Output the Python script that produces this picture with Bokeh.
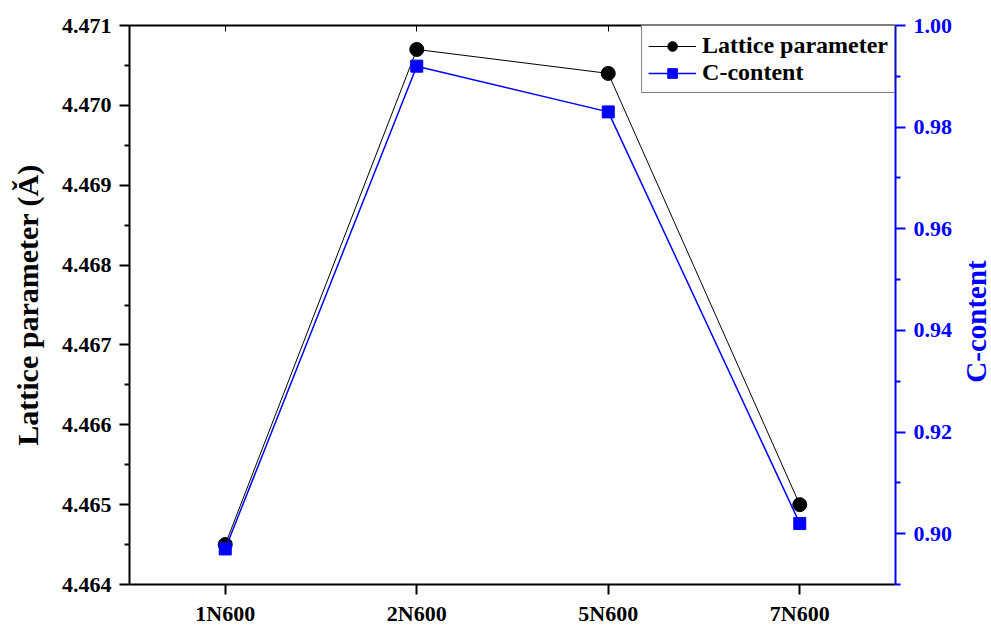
import math
from bokeh.plotting import figure
from bokeh.layouts import row
from bokeh.models import (Range1d, LinearAxis, FixedTicker, Legend, LegendItem, Label)
from bokeh.embed import file_html
from bokeh.resources import INLINE

samples = ["1N600", "2N600", "5N600", "7N600"]
lattice = [4.4645, 4.4707, 4.4704, 4.4650]
c_content = [0.897, 0.992, 0.983, 0.902]

left_major = [4.464, 4.465, 4.466, 4.467, 4.468, 4.469, 4.470, 4.471]
left_minor = [4.4645, 4.4655, 4.4665, 4.4675, 4.4685, 4.4695, 4.4705]
right_major = [0.90, 0.92, 0.94, 0.96, 0.98, 1.00]
right_minor = [0.89, 0.91, 0.93, 0.95, 0.97, 0.99]

FONT = "Liberation Serif"
BLUE = "#0000ff"

xs = list(range(len(samples)))

p = figure(frame_width=766, frame_height=559, output_backend="svg",
           toolbar_location=None, x_range=Range1d(-0.5, 3.5),
           y_range=Range1d(4.464, 4.471),
           min_border_left=129, min_border_right=65,
           min_border_top=25, min_border_bottom=44,
           background_fill_color="white", border_fill_color="white")
p.outline_line_color = None
p.xgrid.visible = False
p.ygrid.visible = False
p.extra_y_ranges = {"c": Range1d(0.89, 1.00)}

# bottom axis
xa = p.xaxis[0]
xa.ticker = FixedTicker(ticks=xs)
xa.major_label_overrides = {i: s for i, s in enumerate(samples)}
xa.major_tick_out = 10
xa.major_tick_in = 0
xa.minor_tick_line_color = None
xa.axis_line_width = 2
xa.major_tick_line_width = 2
xa.major_label_text_color = "black"
xa.major_label_text_font = FONT
xa.major_label_text_font_style = "bold"
xa.major_label_text_font_size = "22px"
xa.major_label_standoff = 6

# left axis
ya = p.yaxis[0]
ya.ticker = FixedTicker(ticks=left_major, minor_ticks=left_minor)
ya.major_label_overrides = {v: f"{v:.3f}" for v in left_major}
ya.major_tick_out = 10
ya.major_tick_in = 0
ya.minor_tick_out = 5
ya.minor_tick_in = 0
ya.axis_line_width = 2
ya.major_tick_line_width = 2
ya.minor_tick_line_width = 2
ya.major_label_text_color = "black"
ya.major_label_text_font = FONT
ya.major_label_text_font_style = "bold"
ya.major_label_text_font_size = "22px"
ya.major_label_standoff = 8
ya.axis_label = "Lattice parameter (Ǎ)"
ya.axis_label_text_color = "black"
ya.axis_label_text_font = FONT
ya.axis_label_text_font_style = "bold"
ya.axis_label_text_font_size = "30px"
ya.axis_label_standoff = 15

# top axis (mirror, no labels)
top = LinearAxis(ticker=FixedTicker(ticks=xs),
                 major_label_overrides={i: "" for i in xs},
                 major_tick_in=6, major_tick_out=0, minor_tick_line_color=None,
                 axis_line_width=2, major_tick_line_width=1)
p.add_layout(top, "above")

# right axis
ra = LinearAxis(y_range_name="c",
                ticker=FixedTicker(ticks=right_major, minor_ticks=right_minor))
ra.major_label_overrides = {v: f"{v:.2f}" for v in right_major}
ra.axis_line_color = BLUE
ra.major_tick_line_color = BLUE
ra.minor_tick_line_color = BLUE
ra.axis_line_width = 2
ra.major_tick_line_width = 2
ra.minor_tick_line_width = 2
ra.major_tick_out = 10
ra.major_tick_in = 0
ra.minor_tick_out = 5
ra.minor_tick_in = 0
ra.major_label_text_color = BLUE
ra.major_label_text_font = FONT
ra.major_label_text_font_style = "bold"
ra.major_label_text_font_size = "22px"
ra.major_label_standoff = 8
p.add_layout(ra, "right")

l1 = p.line(xs, lattice, line_color="black", line_width=1)
s1 = p.scatter(xs, lattice, marker="circle", size=14, fill_color="black",
               line_color="black")
l2 = p.line(xs, c_content, line_color=BLUE, line_width=1.5, y_range_name="c")
s2 = p.scatter(xs, c_content, marker="square", size=12, fill_color=BLUE,
               line_color=BLUE, y_range_name="c")

legend = Legend(items=[LegendItem(label="Lattice parameter", renderers=[l1, s1]),
                       LegendItem(label="C-content", renderers=[l2, s2])],
                location="top_right")
legend.margin = 0
legend.padding = 6
legend.spacing = 0
legend.border_line_color = "black"
legend.border_line_width = 1
legend.label_text_color = "black"
legend.label_text_font = FONT
legend.label_text_font_style = "bold"
legend.label_text_font_size = "24px"
legend.label_height = 24
legend.glyph_height = 24
legend.glyph_width = 48
legend.label_standoff = 6
legend.background_fill_alpha = 1
p.add_layout(legend, "center")

# narrow strip holding the right axis title (reads bottom-to-top)
p2 = figure(width=31, height=628, output_backend="svg", toolbar_location=None,
            min_border=0, x_axis_type=None, y_axis_type=None,
            background_fill_color="white", border_fill_color="white")
p2.outline_line_color = None
p2.xgrid.visible = False
p2.ygrid.visible = False
rlabel = Label(x=15, y=263, x_units="screen", y_units="screen",
               text="C-content", angle=math.pi / 2, text_align="center",
               text_baseline="middle", text_color=BLUE, text_font=FONT,
               text_font_style="bold", text_font_size="29px")
p2.add_layout(rlabel)

layout = row(p, p2, spacing=0)
open("out.html", "w").write(file_html(layout, INLINE))
